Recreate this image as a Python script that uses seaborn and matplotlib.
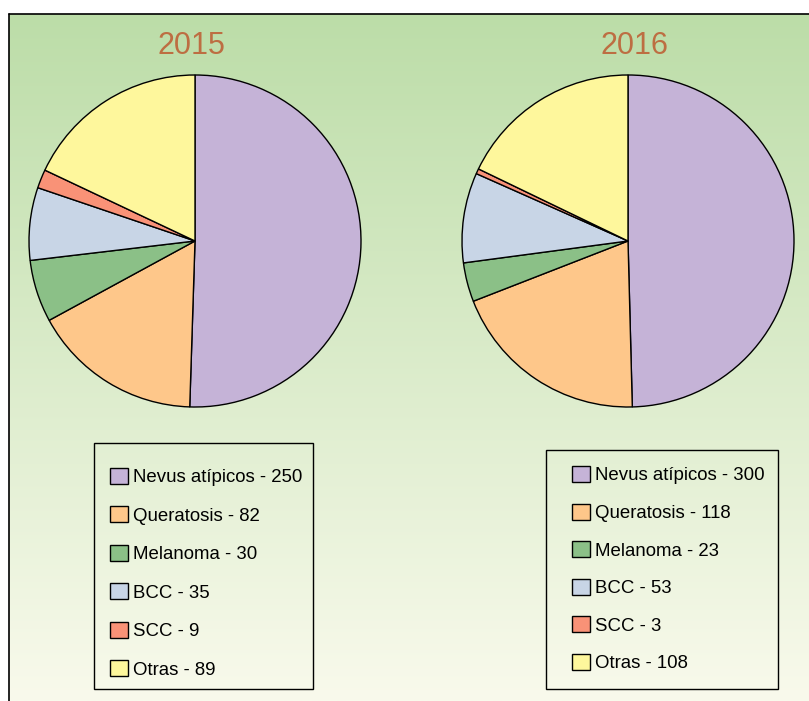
import numpy as np
import matplotlib
matplotlib.use("Agg")
import matplotlib.pyplot as plt
from matplotlib.patches import Patch, Rectangle
import seaborn as sns

# data
years = ["2015", "2016"]
categories = ["Nevus atípicos", "Queratosis", "Melanoma", "BCC", "SCC", "Otras"]
counts_2015 = [250, 82, 30, 35, 9, 89]
counts_2016 = [300, 118, 23, 53, 3, 108]
colors = ["#C5B3D7", "#FEC78A", "#8BC087", "#C8D5E6", "#F99277", "#FEF79C"]

sns.set_theme(style="white")
plt.rcParams["font.family"] = ["Liberation Sans", "DejaVu Sans"]

W, H = 809, 701
fig = plt.figure(figsize=(W / 100, H / 100), dpi=100)
fig.patch.set_facecolor("white")


def fx(px):
    return px / W


def fy(py):
    return 1 - py / H


# background panel with vertical gradient
bg = fig.add_axes([0, 0, 1, 1])
bg.set_xlim(0, W)
bg.set_ylim(H, 0)
bg.axis("off")
top = np.array([0xBC, 0xDD, 0xA8]) / 255
bot = np.array([0xF9, 0xFA, 0xEC]) / 255
t = np.linspace(0, 1, 256)[:, None, None]
grad = top * (1 - t) + bot * t
bg.imshow(grad, extent=[9, W, H, 14], aspect="auto", zorder=0)
bg.plot([9, 9], [H, 14], color="black", lw=1.2, zorder=2)
bg.plot([9, W], [14, 14], color="black", lw=1.2, zorder=2)

pies = [
    (counts_2015, 195, 241, 191, (94, 443, 313, 689), (110, 468), 1.075),
    (counts_2016, 628, 241, 634, (546, 450, 778, 689), (572, 466), 1.03),
]
R = 166
for year, (vals, cx, cy, tx, box, lpos, lsp) in zip(years, pies):
    ax = fig.add_axes([fx(cx - R), fy(cy + R), fx(2 * R), 2 * R / H])
    ax.pie(vals, colors=colors, startangle=90, counterclock=False,
           wedgeprops=dict(edgecolor="black", linewidth=1.0))
    ax.set_xlim(-1, 1)
    ax.set_ylim(-1, 1)
    ax.axis("off")
    fig.text(fx(tx), fy(46), year, ha="center", va="center",
             fontsize=22, color="#BD6E42")

    x0, y0, x1, y1 = box
    bg.add_patch(Rectangle((x0, y0), x1 - x0, y1 - y0, fill=False,
                           edgecolor="black", lw=1.0, zorder=3))
    handles = [Patch(facecolor=c, edgecolor="black", linewidth=1.0,
                     label=f"{cat} - {v}")
               for c, cat, v in zip(colors, categories, vals)]
    fig.legend(handles=handles, loc="upper left",
               bbox_to_anchor=(fx(lpos[0]), fy(lpos[1])),
               frameon=False, fontsize=13.4, labelcolor="black",
               borderpad=0, borderaxespad=0,
               handlelength=0.95, handleheight=0.95, handletextpad=0.3,
               labelspacing=lsp)

fig.savefig("out.png", dpi=100)
